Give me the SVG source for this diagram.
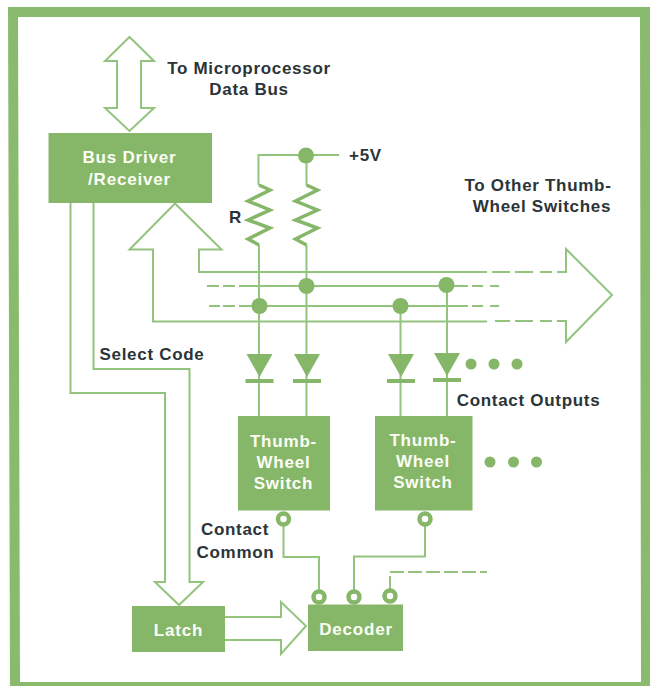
<svg xmlns="http://www.w3.org/2000/svg" width="650" height="686" viewBox="0 0 650 686">
<style>
.box{fill:#86b768}
.w{fill:none;stroke:#93c47e;stroke-width:2}
.d{fill:none;stroke:#93c47e;stroke-width:2}
.r{fill:none;stroke:#86b768;stroke-width:3.500}
.dot{fill:#86b768}
.ring{fill:#fff;stroke:#86b768;stroke-width:4.500}
text{font-family:"Liberation Sans",Arial,sans-serif;font-weight:700}
.l{fill:#2b3438;font-size:17px;letter-spacing:.7px;text-anchor:middle}
.n{fill:#fbfdf6;font-size:17px;letter-spacing:.8px;text-anchor:middle}
</style>
<defs>
<g id="diode"><path class="dot" d="M-13 0H13L0 23Z"/><rect class="dot" x="-14" y="25" width="28" height="4"/></g>
<path id="res" class="r" d="M0 0L11 5L-11 16L11 25L-11 35L11 43L-11 54L0 60"/>
</defs>
<rect width="650" height="686" fill="#fff"/>
<path id="frame" fill-rule="evenodd" fill="#8aba6e" d="M8 7H650V686H10ZM18 17L20 682H641L640 17Z"/>
<g id="connectors">
<path class="w" d="M129.500 37L154 61H141V108H154L129.500 131L105 108H117V61H105Z"/>
<path class="w" d="M70.500 203V393H165V582H155L179 605L203 582H189.500V369H93.500V203"/>
<path class="w" d="M225 617H281V602L306 626L281 654V640H225"/>
<path class="w" d="M487 272H199V249.500H221.500L175 203.500L129.500 249.500H153V321.500H487"/>
<path class="w" d="M492 272H510M515 272H533M540 272H552M557 272H566V249L612 295L566 342V321H557M540 321H552M515 321H533M495 321H510"/>
<path class="d" d="M207 286H219M223 286H235M239 286H468M472 286H483M490 286H499"/>
<path class="d" d="M209 306H220M223 306H235M239 306H468M472 306H483M490 306H499"/>
<path class="w" d="M339 155H258.500V185M306.500 155V185M259 245V416M306.500 245V416M400.500 306V416M447 285V416"/>
<path class="w" d="M283.500 519V557H319V590M425 519V556.500H354V590"/>
<path class="w" stroke-dasharray="14 4" d="M390 590V572H487"/>
<use href="#res" x="259" y="185"/>
<use href="#res" x="306.500" y="185"/>
<g id="junctions">
<circle class="dot" cx="306" cy="155.500" r="8"/>
<circle class="dot" cx="306.500" cy="286" r="8"/>
<circle class="dot" cx="259.500" cy="306" r="8"/>
<circle class="dot" cx="400.500" cy="306" r="8"/>
<circle class="dot" cx="446.500" cy="285" r="8"/>
</g>
</g>
<g id="diodes">
<use href="#diode" x="259.500" y="354"/>
<use href="#diode" x="307" y="354"/>
<use href="#diode" x="401" y="354"/>
<use href="#diode" x="447" y="353"/>
</g>
<g id="dots-top"><circle class="dot" cx="471" cy="364" r="5.500"/><circle class="dot" cx="494" cy="364" r="5.500"/><circle class="dot" cx="517" cy="364" r="5.500"/></g>
<g id="dots-bottom"><circle class="dot" cx="490" cy="462" r="5.500"/><circle class="dot" cx="513.500" cy="462" r="5.500"/><circle class="dot" cx="536.500" cy="462" r="5.500"/></g>
<g id="bus-driver"><rect class="box" x="48.500" y="133" width="163.500" height="70"/><text class="n" x="129.500" y="163">Bus Driver</text><text class="n" x="129.500" y="185">/Receiver</text></g>
<g id="switch-1"><rect class="box" x="238" y="416" width="92" height="94.500"/><text class="n" x="283.500" y="447">Thumb-</text><text class="n" x="283.500" y="468">Wheel</text><text class="n" x="283.500" y="489">Switch</text><circle class="ring" cx="283.500" cy="519" r="5.500"/></g>
<g id="switch-2"><rect class="box" x="375" y="416" width="97.500" height="94.500"/><text class="n" x="423" y="446">Thumb-</text><text class="n" x="423" y="467">Wheel</text><text class="n" x="423" y="488">Switch</text><circle class="ring" cx="425" cy="519" r="5.500"/></g>
<g id="latch"><rect class="box" x="132" y="606" width="93" height="46"/><text class="n" x="178.500" y="636">Latch</text></g>
<g id="decoder"><rect class="box" x="308" y="604.500" width="95" height="46.500"/><text class="n" x="356" y="635">Decoder</text><circle class="ring" cx="319" cy="597" r="5.500"/><circle class="ring" cx="354" cy="597" r="5.500"/><circle class="ring" cx="390" cy="596" r="5.500"/></g>
<g id="labels">
<text class="l" x="249" y="74">To Microprocessor</text>
<text class="l" x="249" y="95">Data Bus</text>
<text class="l" x="365.500" y="161">+5V</text>
<text class="l" x="235.500" y="223">R</text>
<text class="l" x="538" y="191">To Other Thumb-</text>
<text class="l" x="542" y="212">Wheel Switches</text>
<text class="l" x="152" y="360">Select Code</text>
<text class="l" x="528.500" y="406">Contact Outputs</text>
<text class="l" x="235" y="535">Contact</text>
<text class="l" x="235.500" y="558">Common</text>
</g>
</svg>
